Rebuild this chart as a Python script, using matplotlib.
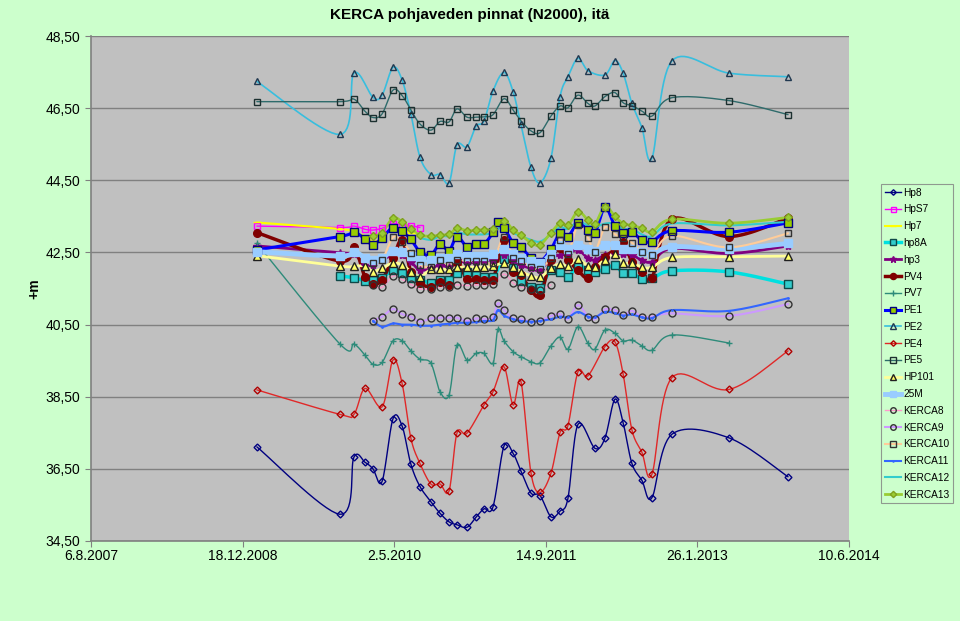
import datetime as dt
import numpy as np
import matplotlib
matplotlib.use('Agg')
import matplotlib.pyplot as plt
import matplotlib.dates as mdates
from matplotlib.lines import Line2D
from matplotlib.ticker import FixedLocator, FuncFormatter

plt.rcParams['font.family'] = ['Liberation Sans', 'DejaVu Sans']

# measurement dates (common for all wells, None = not measured)
dates = ['2009-02-03', '2009-11-04', '2009-12-20', '2010-01-26', '2010-02-21',
         '2010-03-23', '2010-04-28', '2010-05-28', '2010-06-26', '2010-07-26',
         '2010-08-31', '2010-09-30', '2010-10-30', '2010-11-25', '2010-12-28',
         '2011-01-27', '2011-02-22', '2011-03-24', '2011-04-09', '2011-04-29',
         '2011-05-29', '2011-06-24', '2011-07-27', '2011-08-26', '2011-10-01',
         '2011-10-31', '2011-11-26', '2011-12-29', '2012-01-31', '2012-02-23',
         '2012-03-27', '2012-04-29', '2012-05-26', '2012-06-24', '2012-07-27',
         '2012-08-29', '2012-11-03', '2013-05-10', '2013-11-21']
N = None

hp8 = [37.11, 35.24, 36.82, 36.68, 36.50, 36.15, 37.89, 37.69, 36.63, 36.01,
       35.59, 35.27, 35.03, 34.95, 34.88, 35.16, 35.39, 35.45, N, 37.13,
       36.93, 36.44, 35.83, 35.76, 35.17, 35.33, 35.68, 37.73, N, 37.07,
       37.35, 38.43, 37.78, 36.65, 36.18, 35.70, 37.46, 37.36, 36.28]
hps7 = [43.23, 43.19, 43.23, 43.14, 43.12, 43.17, 43.29, 43.26, 43.24, 43.19] + [N] * 29
hp7 = [43.33, 43.15, 43.05, 42.95, 42.80, 42.90, 43.20, 43.15, 43.05] + [N] * 30
hp8a = [N, 41.85, 41.80, 41.72, 41.74, 41.80, 42.01, 41.94, 41.80, 41.74,
        41.66, 41.74, 41.74, 41.92, 41.97, 41.87, 41.81, 41.81, N, 42.31,
        42.06, 41.72, 41.55, 41.52, 42.01, 41.97, 41.81, 42.12, 42.01, 41.97,
        42.03, 42.15, 41.92, 41.94, 41.75, 41.78, 41.99, 41.96, 41.62]
hp3 = [42.68, 42.49, 42.45, 42.15, 42.15, 42.29, 42.43, 42.43, 42.24, 42.01,
       42.06, 42.15, 42.10, 42.29, 42.20, 42.24, 42.29, 42.29, N, 42.43,
       42.29, 42.15, 42.06, 42.01, 42.34, 42.43, 42.47, 42.57, 42.34, 42.29,
       42.43, 42.47, 42.45, 42.43, 42.29, 42.24, 42.61, 42.47, 42.68]
pv4 = [43.05, 42.26, 42.64, 41.81, 41.62, 41.74, 42.34, 42.84, 41.97, 41.64,
       41.55, 41.69, 41.60, 42.24, 41.75, 41.75, 41.74, 41.74, N, 42.85,
       41.97, 41.87, 41.46, 41.32, 42.29, 42.62, 42.30, 42.00, 41.78, 42.10,
       42.38, 42.58, 42.80, 42.24, 41.97, 41.78, 43.42, 42.94, 43.45]
pv7 = [42.75, 39.96, 39.96, 39.65, 39.40, 39.45, 40.05, 40.05, 39.77, 39.54,
       39.43, 38.64, 38.55, 39.93, 39.52, 39.70, 39.70, 39.43, 40.37, 40.05,
       39.75, 39.61, 39.47, 39.44, 39.91, 40.15, 39.82, 40.44, 39.98, 39.82,
       40.35, 40.26, 40.05, 40.07, 39.91, 39.79, 40.21, 39.99, N]
pe1 = [42.57, 42.94, 43.06, 42.87, 42.71, 42.91, 43.19, 43.09, 42.86, 42.52,
       42.43, 42.73, 42.55, 42.94, 42.66, 42.73, 42.73, 43.06, 43.35, 43.19,
       42.77, 42.66, 42.34, 42.24, 42.59, 43.03, 42.94, 43.31, 43.12, 43.03,
       43.75, 43.23, 43.05, 43.07, 42.84, 42.80, 43.10, 43.06, 43.32]
pe2 = [47.24, 45.77, 47.47, N, 46.80, 46.86, 47.63, 47.28, 46.34, 45.14,
       44.66, 44.66, 44.43, 45.48, 45.43, 46.00, 46.14, 46.98, N, 47.49,
       46.96, 46.05, 44.86, 44.43, 45.11, 46.82, 47.37, 47.88, 47.54, N,
       47.42, 47.82, 47.47, 46.63, 45.96, 45.11, 47.81, 47.47, 47.37]
pe4 = [38.69, 38.01, 38.01, 38.73, N, 38.22, 39.52, 38.87, 37.35, 36.65,
       36.08, 36.08, 35.89, 37.49, 37.49, N, 38.27, 38.64, N, 39.33,
       38.27, 38.92, 36.39, 35.85, 36.38, 37.51, 37.70, 39.19, 39.08, N,
       39.89, 40.02, 39.13, 37.58, 36.96, 36.35, 39.03, 38.70, 39.77]
pe5 = [46.68, 46.68, 46.75, 46.41, 46.24, 46.34, 47.00, 46.85, 46.45, 46.06,
       45.89, 46.13, 46.12, 46.48, 46.25, 46.25, 46.26, 46.32, N, 46.76,
       46.45, 46.15, 45.87, 45.82, 46.28, 46.56, 46.51, 46.86, 46.63, 46.56,
       46.82, 46.93, 46.65, 46.57, 46.42, 46.28, 46.79, 46.71, 46.32]
hp101 = [42.41, 42.12, 42.12, 42.12, 41.97, 42.06, 42.21, 42.15, 41.97, 41.83,
         42.03, 42.03, 42.03, 42.09, 42.09, 42.09, 42.09, 42.12, N, 42.21,
         42.09, 41.97, 41.85, 41.81, 42.06, 42.18, 42.12, 42.31, 42.12, 42.10,
         42.30, 42.47, 42.20, 42.21, 42.09, 42.09, 42.36, 42.38, 42.40]
m25 = [42.52, 42.40, 42.52, 42.35, 42.30, 42.35, 42.55, 42.50, 42.40, 42.30,
       42.30, 42.35, 42.35, 42.45, 42.40, 42.40, 42.40, 42.45, N, 42.60,
       42.45, 42.35, 42.25, 42.20, 42.45, 42.71, 42.60, 42.71, 42.60, 42.55,
       42.71, 42.70, 42.60, 42.60, 42.50, 42.45, 42.66, 42.60, 42.75]
kerca8 = [N, N, N, N, 41.60, 41.53, 41.85, 41.75, 41.62, 41.49,
          41.49, 41.55, 41.55, 41.60, 41.58, 41.60, 41.60, 41.62, N, 41.90,
          41.65, 41.55, 41.49, 41.45, 41.60] + [N] * 14
kerca9 = [N, N, N, N, 40.60, 40.72, 40.93, 40.79, 40.72, 40.58,
          40.67, 40.69, 40.69, 40.69, 40.60, 40.67, 40.65, 40.70, 41.09, 40.90,
          40.67, 40.65, 40.58, 40.60, 40.74, 40.79, 40.65, 41.04, 40.72, 40.65,
          40.92, 40.90, 40.76, 40.88, 40.72, 40.72, 40.81, 40.74, 41.07]
kerca10 = [N, N, N, N, 42.21, 42.29, 42.92, 42.80, 42.49, 42.15,
           42.10, 42.29, 42.15, 42.30, 42.25, 42.25, 42.25, 42.22, N, 42.94,
           42.35, 42.25, 42.10, 42.05, 42.35, 42.84, 42.47, 43.26, 42.91, 42.52,
           43.20, 43.00, 42.90, 42.77, 42.52, 42.43, 42.96, 42.64, 43.03]
kerca11 = [N, N, N, N, 40.60, 40.44, 40.53, 40.50, 40.50, 40.47,
           40.47, 40.50, 40.52, 40.55, 40.55, 40.57, 40.60, 40.62, 40.90, 40.75,
           40.65, 40.60, 40.58, 40.60, 40.65, 40.72, 40.70, 40.85, 40.72, 40.70,
           40.85, 40.82, 40.75, 40.78, 40.70, 40.68, 40.90, 40.88, 41.23]
kerca12 = [N, N, N, N, N, N, N, N, N, 42.90,
           42.85, 42.95, 42.95, 43.05, 43.00, 43.00, 43.00, 43.05, N, 43.25,
           43.05, 42.95, 42.85, 42.80, 43.00, 43.20, 43.15, 43.35, 43.25, 43.20,
           43.30, 43.30, 43.15, 43.15, 43.00, 42.95, 43.30, 43.25, 43.35]
kerca13 = [N, N, N, N, 42.95, 43.05, 43.45, 43.35, 43.15, 42.98,
           42.95, 42.98, 43.00, 43.17, 43.10, 43.12, 43.13, 43.15, N, 43.38,
           43.12, 42.98, 42.77, 42.71, 43.05, 43.31, 43.25, 43.63, 43.40, 43.28,
           43.77, 43.50, 43.30, 43.25, 43.17, 43.07, 43.42, 43.31, 43.47]

series = [
    ('Hp8', hp8, dict(color='#000080', lw=1.0, marker='D', ms=3.5, mfc='none', mec='#000080')),
    ('HpS7', hps7, dict(color='#FF00FF', lw=1.0, marker='s', ms=4.5, mfc='none', mec='#FF00FF')),
    ('Hp7', hp7, dict(color='#FFFF00', lw=1.5, marker='_', ms=6, mfc='#FFFF00', mec='#FFFF00')),
    ('hp8A', hp8a, dict(color='#00E0E0', lw=2.5, marker='s', ms=6, mfc='#33CCCC', mec='#104848')),
    ('hp3', hp3, dict(color='#800080', lw=2.0, marker='*', ms=6, mfc='#800080', mec='#800080')),
    ('PV4', pv4, dict(color='#800000', lw=2.5, marker='o', ms=5.5, mfc='#800000', mec='#800000')),
    ('PV7', pv7, dict(color='#2E8B7A', lw=1.0, marker='+', ms=5, mfc='#2E8B7A', mec='#2E8B7A')),
    ('PE1', pe1, dict(color='#0000FF', lw=2.2, marker='s', ms=6, mfc='#99CC00', mec='#000080')),
    ('PE2', pe2, dict(color='#38BEDE', lw=1.2, marker='^', ms=5, mfc='none', mec='#203850')),
    ('PE4', pe4, dict(color='#E02828', lw=1.0, marker='D', ms=3.5, mfc='none', mec='#B00000')),
    ('PE5', pe5, dict(color='#2E6B6B', lw=1.0, marker='s', ms=5, mfc='none', mec='#1C3030')),
    ('HP101', hp101, dict(color='#FFFF99', lw=2.0, marker='^', ms=6, mfc='#FFFF66', mec='#202020')),
    ('25M', m25, dict(color='#99CCFF', lw=3.5, marker='s', ms=6, mfc='#99CCFF', mec='#99CCFF')),
    ('KERCA8', kerca8, dict(color='#FF99CC', lw=1.0, marker='o', ms=5, mfc='none', mec='#333333')),
    ('KERCA9', kerca9, dict(color='#CC99FF', lw=1.5, marker='o', ms=5, mfc='none', mec='#333333')),
    ('KERCA10', kerca10, dict(color='#FFCC99', lw=1.5, marker='s', ms=5, mfc='none', mec='#333333')),
    ('KERCA11', kerca11, dict(color='#3366FF', lw=1.5, marker='.', ms=2, mfc='#3366FF', mec='#3366FF')),
    ('KERCA12', kerca12, dict(color='#33CCCC', lw=1.5, marker='None', ms=0, mfc='none', mec='none')),
    ('KERCA13', kerca13, dict(color='#99CC33', lw=2.0, marker='D', ms=4, mfc='#99CC33', mec='#80A020')),
]

x_all = mdates.date2num([dt.datetime.strptime(d, '%Y-%m-%d') for d in dates])
x0 = mdates.date2num(dt.datetime(2007, 8, 6))
x1 = mdates.date2num(dt.datetime(2014, 6, 10))

fig = plt.figure(figsize=(9.6, 6.21), dpi=100, facecolor='#CCFFCC')
ax = fig.add_axes([91 / 960, 80 / 621, 758 / 960, 505 / 621])
ax.set_facecolor('#C0C0C0')
ax.set_xlim(x0, x1)
ax.set_ylim(34.5, 48.5)


def smooth(xs, ys):
    # Excel-like smoothed line, built in pixel space
    p = ax.transData.transform(np.column_stack([xs, ys]))
    n = len(p)
    out = [p[0]]
    t = np.linspace(0, 1, 16)[1:, None]
    for i in range(n - 1):
        a = p[i]
        d = p[i + 1]
        b = a + (p[i + 1] - p[max(i - 1, 0)]) / 6
        c = d - (p[min(i + 2, n - 1)] - p[i]) / 6
        seg = (1 - t) ** 3 * a + 3 * (1 - t) ** 2 * t * b + 3 * (1 - t) * t ** 2 * c + t ** 3 * d
        out.extend(seg)
    out = ax.transData.inverted().transform(np.array(out))
    return out[:, 0], out[:, 1]


handles = []
for name, vals, st in series:
    xs = np.array([x for x, v in zip(x_all, vals) if v is not None])
    ys = np.array([v for v in vals if v is not None])
    sx, sy = smooth(xs, ys)
    ax.plot(sx, sy, color=st['color'], lw=st['lw'], solid_capstyle='round', zorder=2)
    ax.plot(xs, ys, ls='none', marker=st['marker'], ms=st['ms'], mfc=st['mfc'],
            mec=st['mec'], mew=1.0, zorder=3)
    handles.append(Line2D([], [], color=st['color'], lw=st['lw'], marker=st['marker'],
                          ms=st['ms'] * 0.8, mfc=st['mfc'], mec=st['mec'], label=name))

ax.set_yticks(np.arange(34.5, 48.6, 2.0))
ax.yaxis.set_major_formatter(FuncFormatter(lambda v, p: f'{v:.2f}'.replace('.', ',')))
ax.xaxis.set_major_locator(FixedLocator(np.arange(x0, x1 + 1, 500)))
ax.xaxis.set_major_formatter(FuncFormatter(
    lambda v, p: '{0.day}.{0.month}.{0.year}'.format(mdates.num2date(v))))
ax.grid(axis='y', color='#808080', lw=1.0)
ax.set_axisbelow(True)
for s in ['top', 'right']:
    ax.spines[s].set_visible(False)
for s in ['left', 'bottom']:
    ax.spines[s].set_color('#808080')
    ax.spines[s].set_linewidth(1.2)
ax.tick_params(axis='both', colors='#808080', labelcolor='black', labelsize=10, length=4)
ax.tick_params(axis='x', pad=2)

fig.text(34 / 960, 1 - 289 / 621, '+m', rotation=90, ha='center', va='center',
         fontsize=10, fontweight='bold')
fig.text(470 / 960, 1 - 15 / 621, 'KERCA pohjaveden pinnat (N2000), itä',
         ha='center', va='center', fontsize=11, fontweight='bold')

leg = fig.legend(handles=handles, loc='upper left', bbox_to_anchor=(881 / 960, 1 - 184 / 621),
                 fontsize=7.3, frameon=True, fancybox=False, facecolor='#CCFFCC',
                 edgecolor='#808080', handlelength=1.6, handletextpad=0.25,
                 labelspacing=0.67, borderpad=0.35, borderaxespad=0)
leg.get_frame().set_linewidth(0.8)

fig.savefig('out.png', dpi=100, facecolor=fig.get_facecolor())
